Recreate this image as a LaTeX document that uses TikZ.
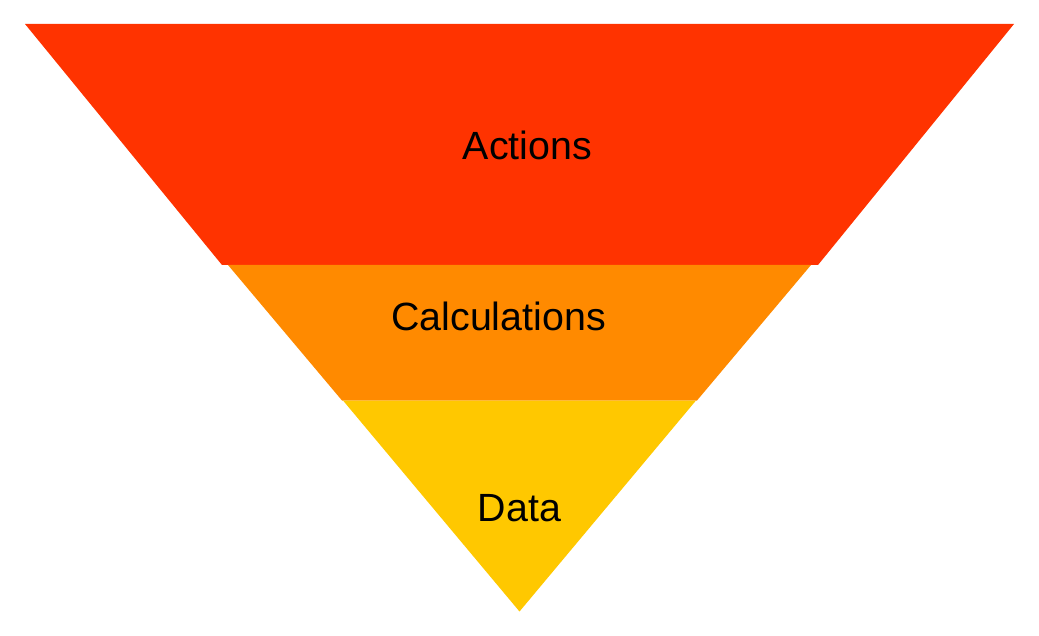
\documentclass[tikz,border=0pt]{standalone}
\usepackage{fontspec}
\setmainfont{Liberation Sans}

\definecolor{actred}{HTML}{FF3300}
\definecolor{calcorange}{HTML}{FF8A00}
\definecolor{datayellow}{HTML}{FFC800}

\begin{document}
\begin{tikzpicture}[x=0.025cm,y=-0.025cm,
  label/.style={anchor=base,inner sep=0pt,font=\fontsize{28}{33}\selectfont}]

\useasboundingbox (0,0) rectangle (1039,636);

% Funnel bands, top to bottom
\fill[actred] (25,24) -- (1014,24) -- (818,265) -- (222,265) -- cycle;
\fill[calcorange] (228,265) -- (811,265) -- (697,400.5) -- (342,400.5) -- cycle;
\fill[datayellow] (343,400.5) -- (696,400.5) -- (519.5,611.5) -- cycle;

% Labels
\node[label] (actions) at (527.5,160) {Actions};
\node[label] (calculations) at (498.5,330.5) {Calculations};
\node[label] (data) at (519.5,521) {Data};

\end{tikzpicture}
\end{document}
